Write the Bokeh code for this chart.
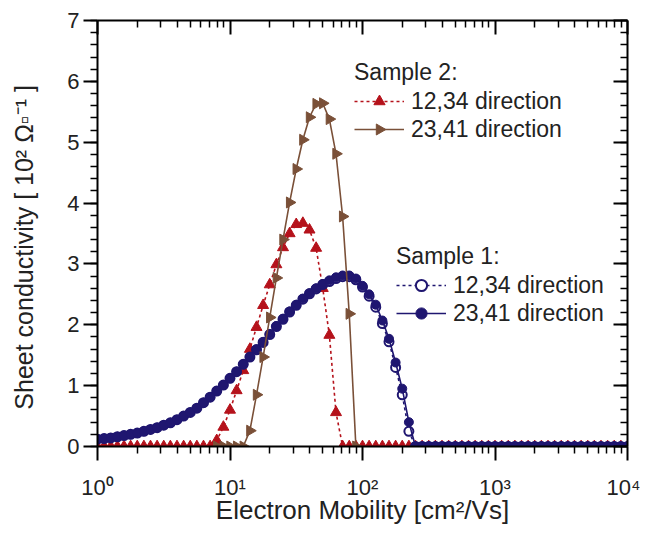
from bokeh.plotting import figure
from bokeh.models import (Range1d, FixedTicker, LinearAxis, LogAxis, Legend, LegendItem,
                          CustomJSTickFormatter)
from bokeh.embed import file_html
from bokeh.resources import INLINE

# ---------------- data ----------------
mobility = [
    1.0, 1.122, 1.259, 1.413, 1.585, 1.778, 1.995, 2.239, 2.512, 2.818,
    3.162, 3.548, 3.981, 4.467, 5.012, 5.623, 6.31, 7.079, 7.943, 8.913,
    10.0, 11.22, 12.59, 14.13, 15.85, 17.78, 19.95, 22.39, 25.12, 28.18,
    31.62, 35.48, 39.81, 44.67, 50.12, 56.23, 63.1, 70.79, 79.43, 89.13,
    100.0, 112.2, 125.9, 141.3, 158.5, 177.8, 199.5, 223.9, 251.2, 281.8,
    316.2, 354.8, 398.1, 446.7, 501.2, 562.3, 631.0, 707.9, 794.3, 891.3,
    1000.0, 1122.0, 1259.0, 1413.0, 1585.0, 1778.0, 1995.0, 2239.0, 2512.0, 2818.0,
    3162.0, 3548.0, 3981.0, 4467.0, 5012.0, 5623.0, 6310.0, 7079.0, 7943.0, 8913.0,
    10000.0,
]

# Sample 1, 23,41 direction (filled circles)
s1_2341 = [
    0.12, 0.13, 0.14, 0.16, 0.18, 0.20, 0.22, 0.25, 0.28, 0.31,
    0.35, 0.39, 0.44, 0.50, 0.56, 0.63, 0.72, 0.81, 0.91, 1.01,
    1.12, 1.23, 1.35, 1.47, 1.60, 1.72, 1.85, 1.98, 2.10, 2.22,
    2.33, 2.43, 2.52, 2.60, 2.67, 2.73, 2.78, 2.81, 2.81, 2.76,
    2.64, 2.50, 2.33, 2.07, 1.77, 1.38, 0.95, 0.40, 0.0, 0.0,
    0.0, 0.0, 0.0, 0.0, 0.0, 0.0, 0.0, 0.0, 0.0, 0.0,
    0.0, 0.0, 0.0, 0.0, 0.0, 0.0, 0.0, 0.0, 0.0, 0.0,
    0.0, 0.0, 0.0, 0.0, 0.0, 0.0, 0.0, 0.0, 0.0, 0.0,
    0.0,
]

# Sample 1, 12,34 direction (open circles)
s1_1234 = [
    0.12, 0.13, 0.14, 0.16, 0.18, 0.20, 0.22, 0.25, 0.28, 0.31,
    0.35, 0.39, 0.44, 0.50, 0.56, 0.63, 0.72, 0.81, 0.91, 1.01,
    1.12, 1.23, 1.35, 1.47, 1.59, 1.71, 1.84, 1.97, 2.09, 2.21,
    2.32, 2.42, 2.51, 2.59, 2.66, 2.71, 2.76, 2.79, 2.79, 2.74,
    2.62, 2.47, 2.29, 2.02, 1.72, 1.30, 0.85, 0.25, 0.0, 0.0,
    0.0, 0.0, 0.0, 0.0, 0.0, 0.0, 0.0, 0.0, 0.0, 0.0,
    0.0, 0.0, 0.0, 0.0, 0.0, 0.0, 0.0, 0.0, 0.0, 0.0,
    0.0, 0.0, 0.0, 0.0, 0.0, 0.0, 0.0, 0.0, 0.0, 0.0,
    0.0,
]

# Sample 2, 12,34 direction (up triangles)
s2_1234 = [
    0.0, 0.0, 0.0, 0.0, 0.0, 0.0, 0.0, 0.0, 0.0, 0.0,
    0.0, 0.0, 0.0, 0.0, 0.0, 0.0, 0.0, 0.0, 0.10, 0.32,
    0.60, 0.92, 1.25, 1.60, 1.96, 2.32, 2.66, 2.99, 3.27, 3.50,
    3.65, 3.67, 3.56, 3.26, 2.60, 1.83, 0.56, 0.0, 0.0, 0.0,
    0.0, 0.0, 0.0, 0.0, 0.0, 0.0, 0.0, 0.0, 0.0, 0.0,
    0.0, 0.0, 0.0, 0.0, 0.0, 0.0, 0.0, 0.0, 0.0, 0.0,
    0.0, 0.0, 0.0, 0.0, 0.0, 0.0, 0.0, 0.0, 0.0, 0.0,
    0.0, 0.0, 0.0, 0.0, 0.0, 0.0, 0.0, 0.0, 0.0, 0.0,
    0.0,
]

# Sample 2, 23,41 direction (right triangles)
s2_2341_mobility = [
    7.943, 8.913, 10.0, 11.22, 12.59, 14.13, 15.85, 17.78, 19.95, 22.39,
    25.12, 28.18, 31.62, 35.48, 39.81, 44.67, 50.12, 56.23, 63.1, 70.79,
    79.43, 89.13,
]
s2_2341 = [
    0.0, 0.0, 0.0, 0.0, 0.0, 0.26, 0.85, 1.47, 2.12, 2.77,
    3.40, 4.01, 4.56, 5.04, 5.41, 5.63, 5.64, 5.38, 4.81, 3.78,
    2.18, 0.0,
]

x_ticks = [1, 10, 100, 1000, 10000]
x_tick_labels = ["10\u2070", "10\u00b9", "10\u00b2", "10\u00b3", "10\u2074"]
x_minor = [m * d for d in [1, 10, 100, 1000] for m in [2, 3, 4, 5, 6, 7, 8, 9]]
y_ticks = [0, 1, 2, 3, 4, 5, 6, 7]
y_minor = [i / 5 for i in range(0, 36)]

BLUE = "#1f1670"
RED = "#b5121b"
BROWN = "#7a5038"
FONT = "Liberation Sans"

# layout (screen pixels)
W, H = 640, 530
B_LEFT, B_RIGHT, B_TOP, B_BOTTOM = 97, 13, 20, 84
FRAME_W = W - B_LEFT - B_RIGHT
FRAME_H = H - B_TOP - B_BOTTOM
GLYPH_W, ROW_H = 50, 28
LEG2_LOC = (257, 303)
LEG1_LOC = (299, 119)

p = figure(width=W, height=H, x_axis_type="log",
           x_range=Range1d(1, 1e4), y_range=Range1d(0, 7),
           output_backend="svg", toolbar_location=None,
           min_border_left=B_LEFT, min_border_right=B_RIGHT, min_border_top=B_TOP,
           min_border_bottom=B_BOTTOM)
p.grid.visible = False
p.outline_line_color = None
p.background_fill_color = "white"
p.border_fill_color = "white"

# ---------------- series ----------------
r_red_line = p.line(mobility, s2_1234, line_color=RED, line_width=1.6, line_dash="3 3")
r_red_pts = p.scatter(mobility, s2_1234, marker="triangle", size=11,
                      fill_color=RED, line_color=RED, line_width=1)

r_b1_line = p.line(mobility, s1_1234, line_color=BLUE, line_width=1.6, line_dash="3 3")
r_b1_pts = p.scatter(mobility, s1_1234, marker="circle", size=9,
                     fill_color="white", line_color=BLUE, line_width=2)
r_b2_line = p.line(mobility, s1_2341, line_color=BLUE, line_width=1.6)
r_b2_pts = p.scatter(mobility, s1_2341, marker="circle", size=9,
                     fill_color=BLUE, line_color=BLUE, line_width=1)

r_br_line = p.line(s2_2341_mobility, s2_2341, line_color=BROWN, line_width=1.6)
r_br_pts = p.scatter(s2_2341_mobility, s2_2341, marker="triangle", angle=-1.5708, size=11,
                     fill_color=BROWN, line_color=BROWN, line_width=1)

# legend key marker for the right-pointing triangle (Bokeh legends ignore marker angle):
# placed at the centre of the legend's second row, converted from legend layout pixels
key_x = 10 ** ((LEG2_LOC[0] + GLYPH_W / 2) / FRAME_W * 4)
key_y = (LEG2_LOC[1] + ROW_H / 2) / FRAME_H * 7
p.scatter([key_x], [key_y], marker="triangle", angle=-1.5708, size=11,
          fill_color=BROWN, line_color=BROWN, line_width=1)

# ---------------- axes ----------------
xfmt = CustomJSTickFormatter(args=dict(lab_list=x_tick_labels, val_list=x_ticks), code="""
let out = "";
for (let k = 0; k < val_list.length; k++) {
  if (Math.abs(Math.log10(val_list[k]) - Math.log10(tick)) < 1e-6) { out = lab_list[k]; }
}
return out;
""")
blank = CustomJSTickFormatter(code="return ' ';")
blank2 = CustomJSTickFormatter(code="return ' ';")

def style(ax, inward=False):
    ax.axis_line_width = 2
    ax.axis_line_color = "black"
    ax.major_tick_line_width = 2
    ax.minor_tick_line_width = 1.5
    ax.major_tick_line_color = "black"
    ax.minor_tick_line_color = "black"
    if inward:
        ax.major_tick_in = 14
        ax.major_tick_out = 0
        ax.minor_tick_in = 7
        ax.minor_tick_out = 0
        ax.major_label_text_font_size = "2px"
        ax.major_label_standoff = 0
    else:
        ax.major_tick_in = 0
        ax.major_tick_out = 14
        ax.minor_tick_in = 0
        ax.minor_tick_out = 7
        ax.major_label_text_font = FONT
        ax.major_label_text_font_size = "22px"
        ax.major_label_text_color = "#222222"
        ax.axis_label_text_font = FONT
        ax.axis_label_text_font_size = "26px"
        ax.axis_label_text_font_style = "normal"
        ax.axis_label_text_color = "#222222"

xa = p.xaxis[0]
xa.ticker = FixedTicker(ticks=x_ticks, minor_ticks=x_minor)
xa.formatter = xfmt
style(xa)
xa.major_label_standoff = 14
xa.axis_label = "Electron Mobility [cm\u00b2/Vs]"
xa.axis_label_standoff = -8

ya = p.yaxis[0]
ya.ticker = FixedTicker(ticks=y_ticks, minor_ticks=y_minor)
style(ya)
ya.axis_label_text_font_size = "25px"
ya.major_label_standoff = 4
ya.major_label_orientation = "horizontal"
ya.axis_label = "Sheet conductivity [ 10\u00b2 \u03a9\u25ab\u207b\u00b9 ]\u00a0\u00a0\u00a0\u00a0"
ya.axis_label_standoff = 26

top = LogAxis(ticker=FixedTicker(ticks=x_ticks, minor_ticks=x_minor), formatter=blank)
style(top, inward=True)
p.add_layout(top, "above")

right = LinearAxis(ticker=FixedTicker(ticks=y_ticks, minor_ticks=y_minor), formatter=blank2)
style(right, inward=True)
p.add_layout(right, "right")

# ---------------- legends ----------------
def make_legend(title, items, loc):
    lg = Legend(items=items, title=title, location=loc)
    lg.border_line_color = None
    lg.background_fill_alpha = 0
    lg.padding = 0
    lg.margin = 0
    lg.spacing = 0
    lg.label_height = ROW_H
    lg.glyph_height = ROW_H
    lg.glyph_width = GLYPH_W
    lg.label_standoff = 7
    lg.label_text_font = FONT
    lg.label_text_font_size = "23px"
    lg.label_text_color = "#222222"
    lg.title_text_font = FONT
    lg.title_text_font_size = "23px"
    lg.title_text_font_style = "normal"
    lg.title_text_color = "#222222"
    lg.title_standoff = 1
    return lg

leg2 = make_legend("Sample 2:", [
    LegendItem(label="12,34 direction", renderers=[r_red_line, r_red_pts]),
    LegendItem(label="23,41 direction", renderers=[r_br_line]),
], LEG2_LOC)
leg1 = make_legend("Sample 1:", [
    LegendItem(label="12,34 direction", renderers=[r_b1_line, r_b1_pts]),
    LegendItem(label="23,41 direction", renderers=[r_b2_line, r_b2_pts]),
], LEG1_LOC)
p.add_layout(leg2)
p.add_layout(leg1)

open("out.html", "w").write(file_html(p, INLINE))
